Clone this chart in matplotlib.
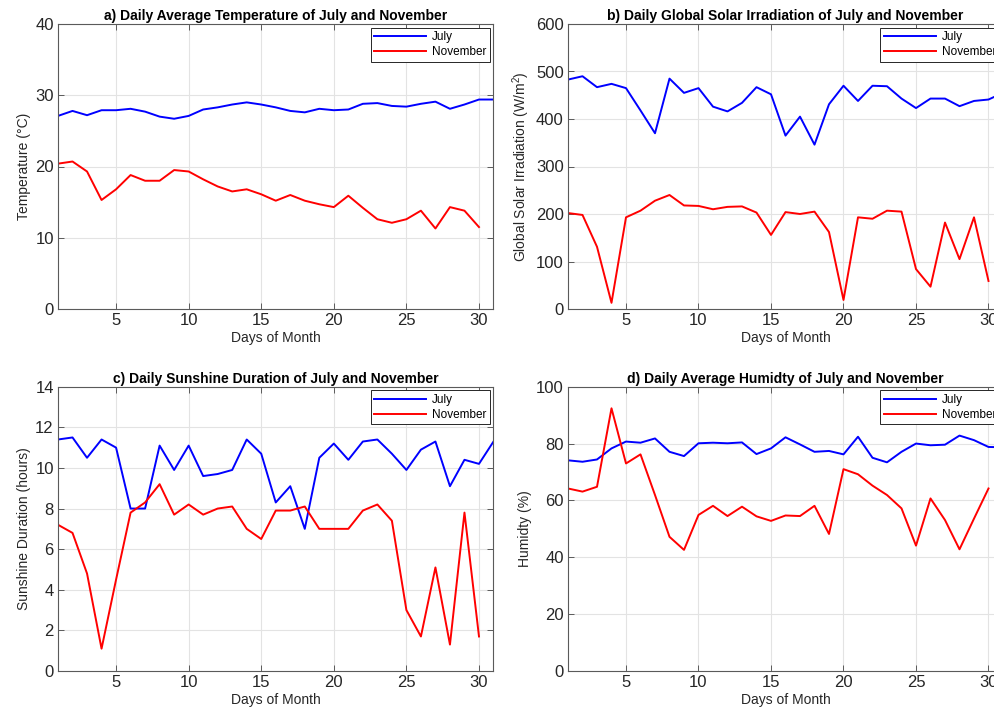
import numpy as np
import matplotlib
matplotlib.use("Agg")
import matplotlib.pyplot as plt

# Data
days_jul = np.arange(1, 32)
days_nov = np.arange(1, 31)

temp_jul = [27.1, 27.8, 27.2, 27.9, 27.9, 28.1, 27.7, 27.0, 26.7, 27.1,
            28.0, 28.3, 28.7, 29.0, 28.7, 28.3, 27.8, 27.6, 28.1, 27.9,
            28.0, 28.8, 28.9, 28.5, 28.4, 28.8, 29.1, 28.1, 28.7, 29.4, 29.4]
temp_nov = [20.4, 20.7, 19.3, 15.3, 16.8, 18.8, 18.0, 18.0, 19.5, 19.3,
            18.2, 17.2, 16.5, 16.8, 16.1, 15.2, 16.0, 15.2, 14.7, 14.3,
            15.9, 14.2, 12.6, 12.1, 12.6, 13.8, 11.3, 14.3, 13.8, 11.5]

irr_jul = [483, 490, 467, 474, 465, 418, 370, 485, 455, 465,
           426, 416, 434, 467, 452, 365, 405, 346, 431, 470,
           438, 470, 469, 443, 423, 443, 443, 427, 438, 441, 455]
irr_nov = [202, 198, 131, 13, 193, 207, 228, 240, 218, 217,
           210, 215, 216, 203, 156, 204, 200, 205, 162, 19,
           193, 190, 207, 205, 84, 47, 182, 105, 193, 59]

sun_jul = [11.4, 11.5, 10.5, 11.4, 11.0, 8.0, 8.0, 11.1, 9.9, 11.1,
           9.6, 9.7, 9.9, 11.4, 10.7, 8.3, 9.1, 7.0, 10.5, 11.2,
           10.4, 11.3, 11.4, 10.7, 9.9, 10.9, 11.3, 9.1, 10.4, 10.2, 11.3]
sun_nov = [7.2, 6.8, 4.8, 1.1, 4.5, 7.8, 8.3, 9.2, 7.7, 8.2,
           7.7, 8.0, 8.1, 7.0, 6.5, 7.9, 7.9, 8.1, 7.0, 7.0,
           7.0, 7.9, 8.2, 7.4, 3.0, 1.7, 5.1, 1.3, 7.8, 1.7]

hum_jul = [74.1, 73.6, 74.4, 78.3, 80.7, 80.3, 81.8, 77.1, 75.6, 80.1,
           80.3, 80.1, 80.4, 76.3, 78.3, 82.2, 79.7, 77.1, 77.4, 76.2,
           82.4, 75.0, 73.4, 77.1, 80.0, 79.4, 79.6, 82.8, 81.2, 78.8, 78.7]
hum_nov = [64.2, 63.1, 64.8, 92.4, 73.0, 76.2, 61.9, 47.2, 42.6, 54.9,
           58.1, 54.5, 57.8, 54.4, 52.8, 54.7, 54.5, 58.1, 48.2, 71.0,
           69.2, 65.2, 61.9, 57.2, 44.1, 60.7, 53.1, 42.8, 53.6, 64.2]

plt.rcParams['font.family'] = ['Liberation Sans', 'DejaVu Sans']
plt.rcParams['mathtext.fontset'] = 'custom'
plt.rcParams['mathtext.rm'] = 'Liberation Sans'
plt.rcParams['mathtext.it'] = 'Liberation Sans:italic'

text_col = '#262626'
edge_col = '#5a5a5a'

fig = plt.figure(figsize=(9.95, 7.22), dpi=100)

W, H = 995.0, 722.0
def add_panel(x0, x1, ytop, ybot):
    return fig.add_axes([x0 / W, (H - ybot) / H, (x1 - x0) / W, (ybot - ytop) / H])

panels = [
    (add_panel(58, 493.5, 24, 309), temp_jul, temp_nov, 40, 10,
     'a) Daily Average Temperature of July and November', 'Temperature (\u00b0C)'),
    (add_panel(568, 1003, 24, 309), irr_jul, irr_nov, 600, 100,
     'b) Daily Global Solar Irradiation of July and November', 'Global Solar Irradiation (W/m$^{2}$)'),
    (add_panel(58, 493.5, 386.7, 671), sun_jul, sun_nov, 14, 2,
     'c) Daily Sunshine Duration of July and November', 'Sunshine Duration (hours)'),
    (add_panel(568, 1003, 386.7, 671), hum_jul, hum_nov, 100, 20,
     'd) Daily Average Humidty of July and November', 'Humidty (%)'),
]

for ax, jul, nov, ymax, ystep, title, ylabel in panels:
    ax.plot(days_jul, jul, color='#0000ff', lw=1.4, label='July')
    ax.plot(days_nov, nov, color='#ff0000', lw=1.4, label='November')
    ax.set_xlim(1, 31)
    ax.set_ylim(0, ymax)
    ax.set_xticks([5, 10, 15, 20, 25, 30])
    ax.set_yticks(np.arange(0, ymax + ystep / 2, ystep))
    ax.grid(True, color='#e3e3e3', lw=0.8)
    ax.set_axisbelow(True)
    ax.tick_params(direction='in', length=4, width=0.7, top=True, right=True,
                   labelsize=12, colors=edge_col, labelcolor=text_col, pad=3)
    for s in ax.spines.values():
        s.set_color(edge_col)
        s.set_linewidth(0.8)
    ax.set_title(title, fontsize=10, fontweight='bold', color='black', pad=3)
    ax.set_xlabel('Days of Month', fontsize=10, color=text_col, labelpad=2)
    ax.set_ylabel(ylabel, fontsize=10, color=text_col, labelpad=3)
    leg = ax.legend(loc='upper right', fontsize=8.5, fancybox=False, framealpha=1,
                    edgecolor=text_col, handlelength=4.4, borderaxespad=0.3,
                    labelspacing=0.25, borderpad=0.3, handletextpad=0.5)
    leg.get_frame().set_linewidth(0.7)

fig.savefig('out.png', dpi=100)
